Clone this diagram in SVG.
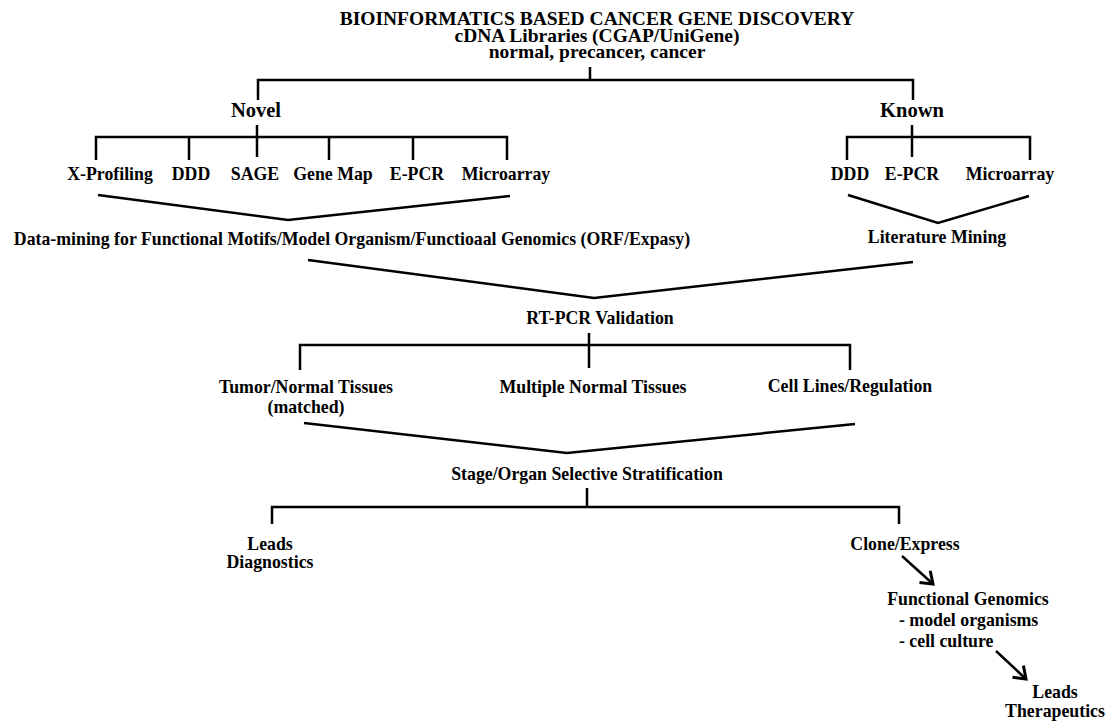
<svg xmlns="http://www.w3.org/2000/svg" width="1109" height="723" viewBox="0 0 1109 723">
<defs>
<style>
text{font-family:"Liberation Serif","Times New Roman",serif;font-weight:bold;fill:#000;text-anchor:middle;font-size:17.8px}
.t{font-size:19.5px}
.h{font-size:20.5px}
.c line,.c polyline{stroke:#000;stroke-width:2.5;fill:none}
.a{stroke:#000;stroke-width:3;fill:none}
</style>
<marker id="ah" markerUnits="userSpaceOnUse" markerWidth="20" markerHeight="20" refX="14" refY="10" orient="auto" viewBox="0 0 20 20">
<path d="M3,2 L14,10 L3,18" fill="none" stroke="#000" stroke-width="3"/>
</marker>
</defs>
<rect width="1109" height="723" fill="#fff"/>
<g id="connectors" class="c">
<line x1="590" y1="67" x2="590" y2="80"/>
<polyline points="258,100 258,80 913,80 913,100"/>
<line x1="257" y1="125" x2="257" y2="157"/>
<polyline points="96,160 96,137 507,137 507,160"/>
<line x1="189" y1="137" x2="189" y2="160"/>
<line x1="329" y1="137" x2="329" y2="160"/>
<line x1="413" y1="137" x2="413" y2="160"/>
<line x1="912" y1="125" x2="912" y2="157"/>
<polyline points="847,160 847,137 1030,137 1030,160"/>
<polyline points="98,195 288,220 510,196"/>
<polyline points="848,195 938,223 1029,196"/>
<polyline points="308,260 594,298 913,262"/>
<line x1="589" y1="333" x2="589" y2="368"/>
<polyline points="300,370 300,345 850,345 850,370"/>
<polyline points="304,423 567,453 855,424"/>
<line x1="587" y1="488" x2="587" y2="507"/>
<polyline points="272,524 272,507 899,507 899,524"/>
<line class="a" x1="902" y1="556" x2="933" y2="584" marker-end="url(#ah)"/>
<line class="a" x1="996" y1="651" x2="1026" y2="679" marker-end="url(#ah)"/>
</g>
<g id="title">
<text class="t" x="597" y="25">BIOINFORMATICS BASED CANCER GENE DISCOVERY</text>
<text class="t" x="597" y="41.5">cDNA Libraries (CGAP/UniGene)</text>
<text class="t" x="597" y="57.5">normal, precancer, cancer</text>
</g>
<g id="novel"><text class="h" x="256" y="117">Novel</text></g>
<g id="known"><text class="h" x="912" y="117">Known</text></g>
<g id="n-xprofiling"><text x="110" y="180">X-Profiling</text></g>
<g id="n-ddd"><text x="191" y="180">DDD</text></g>
<g id="n-sage"><text x="255" y="180">SAGE</text></g>
<g id="n-genemap"><text x="333" y="180">Gene Map</text></g>
<g id="n-epcr"><text x="417" y="180">E-PCR</text></g>
<g id="n-microarray"><text x="506" y="180">Microarray</text></g>
<g id="k-ddd"><text x="850" y="180">DDD</text></g>
<g id="k-epcr"><text x="912" y="180">E-PCR</text></g>
<g id="k-microarray"><text x="1010" y="180">Microarray</text></g>
<g id="datamining"><text x="352" y="245">Data-mining for Functional Motifs/Model Organism/Functioaal Genomics (ORF/Expasy)</text></g>
<g id="literature"><text x="937" y="243">Literature Mining</text></g>
<g id="rtpcr"><text x="600" y="324">RT-PCR Validation</text></g>
<g id="tumor"><text x="306" y="393">Tumor/Normal Tissues</text><text x="306" y="413">(matched)</text></g>
<g id="multiple"><text x="593" y="393">Multiple Normal Tissues</text></g>
<g id="celllines"><text x="850" y="392">Cell Lines/Regulation</text></g>
<g id="stage"><text x="587" y="480">Stage/Organ Selective Stratification</text></g>
<g id="diagnostics"><text x="270" y="550">Leads</text><text x="270" y="568">Diagnostics</text></g>
<g id="clone"><text x="905" y="550">Clone/Express</text></g>
<g id="functional"><text x="968" y="605">Functional Genomics</text><text x="899" y="626" style="text-anchor:start">- model organisms</text><text x="899" y="647" style="text-anchor:start">- cell culture</text></g>
<g id="therapeutics"><text x="1055" y="698">Leads</text><text x="1055" y="716.5">Therapeutics</text></g>
</svg>
